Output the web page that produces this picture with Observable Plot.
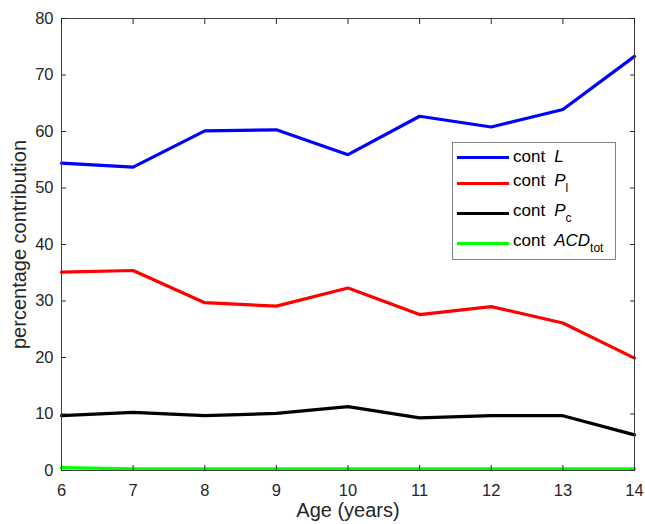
<!DOCTYPE html>
<html>
<head>
<meta charset="utf-8">
<script src="https://cdn.jsdelivr.net/npm/d3@7"></script>
<script src="https://cdn.jsdelivr.net/npm/@observablehq/plot@0.6"></script>
<style>
  html, body { margin: 0; padding: 0; background: #fff; }
  #wrap { position: relative; width: 645px; height: 524px; font-family: "Liberation Sans", Arial, sans-serif; }
  #legend { position: absolute; left: 452px; top: 142px; width: 164px; height: 118px; border: 1px solid #808080; background: #fff; box-sizing: border-box; font-size: 17px; color: #000; }
  .row { position: absolute; left: 0; height: 20px; display: flex; align-items: center; }
  .sw { display: inline-block; width: 52px; height: 3px; margin-left: 4px; margin-right: 4px; }
  .it { font-style: italic; margin-left: 9px; }
  sub { font-size: 12px; font-style: normal; vertical-align: -6px; }
</style>
</head>
<body>
<div id="wrap"></div>
<script>
const ages = [6, 7, 8, 9, 10, 11, 12, 13, 14];
const contL   = [54.4, 53.7, 60.1, 60.3, 55.9, 62.7, 60.8, 63.9, 73.3];
const contPl  = [35.1, 35.4, 29.7, 29.1, 32.3, 27.6, 29.0, 26.1, 19.9];
const contPc  = [9.7, 10.3, 9.7, 10.1, 11.3, 9.3, 9.7, 9.7, 6.3];
const contACD = [0.5, 0.3, 0.3, 0.3, 0.3, 0.3, 0.3, 0.3, 0.3];
const xTicks = [6, 7, 8, 9, 10, 11, 12, 13, 14];
const yTicks = [0, 10, 20, 30, 40, 50, 60, 70, 80];
const seriesNames = ["cont L", "cont Pl", "cont Pc", "cont ACDtot"];
const seriesColors = ["#0000ff", "#ff0000", "#000000", "#00ff00"];

const allSeries = [contL, contPl, contPc, contACD];
const rows = [];
allSeries.forEach((vals, s) => vals.forEach((v, i) => rows.push({age: ages[i], value: v, series: seriesNames[s]})));

const chart = Plot.plot({
  width: 645,
  height: 524,
  marginLeft: 61,
  marginRight: 11,
  marginTop: 18,
  marginBottom: 54,
  style: {fontFamily: "Liberation Sans, Arial, sans-serif", fontSize: "16.5px", color: "#262626", background: "#fff"},
  x: {domain: [6, 14]},
  y: {domain: [0, 80]},
  color: {domain: seriesNames, range: seriesColors},
  marks: [
    Plot.line(rows, {x: "age", y: "value", z: "series", stroke: "series", strokeWidth: 3.2}),
    Plot.frame({stroke: "#404040", strokeWidth: 1}),
    Plot.axisX({ticks: xTicks, anchor: "bottom", tickSize: -5, tickPadding: 19, label: "Age (years)", labelAnchor: "center", labelArrow: "none", labelOffset: 46}),
    Plot.axisX({ticks: xTicks, anchor: "top", tickSize: -5, tickFormat: () => "", label: null}),
    Plot.axisY({ticks: yTicks, anchor: "left", tickSize: -5, tickPadding: 13, label: "percentage contribution", labelAnchor: "center", labelArrow: "none", labelOffset: 50}),
    Plot.axisY({ticks: yTicks, anchor: "right", tickSize: -5, tickFormat: () => "", label: null})
  ]
});
document.getElementById("wrap").appendChild(chart);
d3.select(chart).selectAll("text").each(function() {
  const g = this.parentNode;
  const lab = (g && g.getAttribute && g.getAttribute("aria-label")) || "";
  if (lab.includes("tick label")) this.style.fontSize = "16.5px";
  else if (lab.includes("axis label")) this.style.fontSize = "20px";
});

const legend = document.createElement("div");
legend.id = "legend";
const labelsHtml = [
  'cont<span class="it">L</span>',
  'cont<span class="it">P<sub>l</sub></span>',
  'cont<span class="it">P<sub>c</sub></span>',
  'cont<span class="it">ACD<sub>tot</sub></span>'
];
const rowTops = [4, 30, 60, 90];
labelsHtml.forEach((h, i) => {
  const r = document.createElement("div");
  r.className = "row";
  r.style.top = rowTops[i] + "px";
  r.innerHTML = `<span class="sw" style="background:${seriesColors[i]}"></span><span>${h}</span>`;
  legend.appendChild(r);
});
document.getElementById("wrap").appendChild(legend);
</script>
</body>
</html>
